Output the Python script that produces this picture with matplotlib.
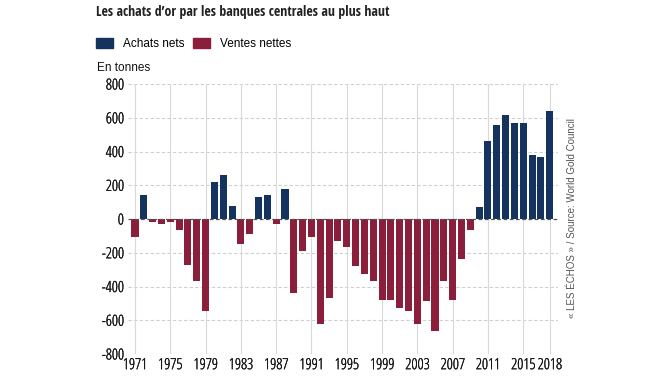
import matplotlib.pyplot as plt
import matplotlib.patheffects as pe
import numpy as np
from matplotlib.patches import Patch

plt.rcParams['font.family'] = ['Liberation Sans', 'DejaVu Sans']

# Données (tonnes), achats nets > 0, ventes nettes < 0
years = list(range(1971, 2019))
values = [-105, 142, -16, -30, -16, -65, -275, -367, -545, 221,
          261, 77, -148, -89, 132, 140, -30, 176, -436, -190,
          -105, -620, -466, -130, -166, -280, -324, -367, -480, -480,
          -527, -545, -620, -484, -662, -367, -480, -239, -63, 73,
          464, 557, 614, 571, 571, 381, 365, 640]
tick_years = [1971, 1975, 1979, 1983, 1987, 1991, 1995, 1999, 2003, 2007, 2011, 2015, 2018]
y_ticks = [-800, -600, -400, -200, 0, 200, 400, 600, 800]

blue = '#14335f'
red = '#8b1e3a'
narrow = ['Open Sans Condensed', 'DejaVu Sans']
light = ['Open Sans', 'DejaVu Sans']
# léger épaississement de la police condensée fine
thick = [pe.withStroke(linewidth=0.2, foreground='#111111')]

fig = plt.figure(figsize=(6.7, 3.77), dpi=100)
ax = fig.add_axes([0.191, 0.061, 0.642, 0.716])

colors = [blue if v >= 0 else red for v in values]
ax.bar(years, values, width=0.8, color=colors, zorder=3)

ax.set_xlim(1970.2, 2018.95)
ax.set_ylim(-800, 800)
ax.set_xticks(tick_years)
ax.set_xticklabels([str(y) for y in tick_years], fontsize=11, family=light,
                   fontweight=300, fontstretch='condensed', color='#111111')
ax.set_yticks(y_ticks)
ax.set_yticklabels([str(v) for v in y_ticks], fontsize=11, family=light,
                   fontweight=300, fontstretch='condensed', color='#111111')
for lab in ax.get_xticklabels() + ax.get_yticklabels():
    lab.set_path_effects(thick)
ax.tick_params(length=0, pad=3)
ax.tick_params(axis='x', pad=3)

for s in ax.spines.values():
    s.set_visible(False)

# grilles
ax.xaxis.grid(True, color='#d9d9d9', linewidth=0.8, zorder=0)
for v in y_ticks:
    if v == 0:
        ax.axhline(v, color='#555555', linewidth=0.9, linestyle=(0, (3, 2)), zorder=4)
    else:
        ax.axhline(v, color='#cfcfcf', linewidth=0.8, linestyle=(0, (3, 2)), zorder=1)

# titre
fig.text(96 / 670, 1 - 12 / 377, "Les achats d\u2019or par les banques centrales au plus haut",
         fontsize=10, fontweight='bold', ha='left', va='center',
         family=narrow, color='#222222')

# légende
handles = [Patch(color=blue, label='Achats nets'), Patch(color=red, label='Ventes nettes')]
fig.legend(handles=handles, loc='center left', bbox_to_anchor=(85 / 670, 1 - 44 / 377),
           ncol=2, frameon=False, fontsize=8.5, handlelength=1.45, handleheight=0.95,
           columnspacing=0.75, handletextpad=0.85)

fig.text(97 / 670, 1 - 68 / 377, 'En tonnes', fontsize=8.5, ha='left', va='center', color='#111111')

fig.text(572 / 670, 1 - 218 / 377, '\u00ab LES \u00c9CHOS \u00bb / Source: World Gold Council',
         fontsize=7, rotation=90, ha='center', va='center', color='#555555')

fig.savefig('out.png', dpi=100)
